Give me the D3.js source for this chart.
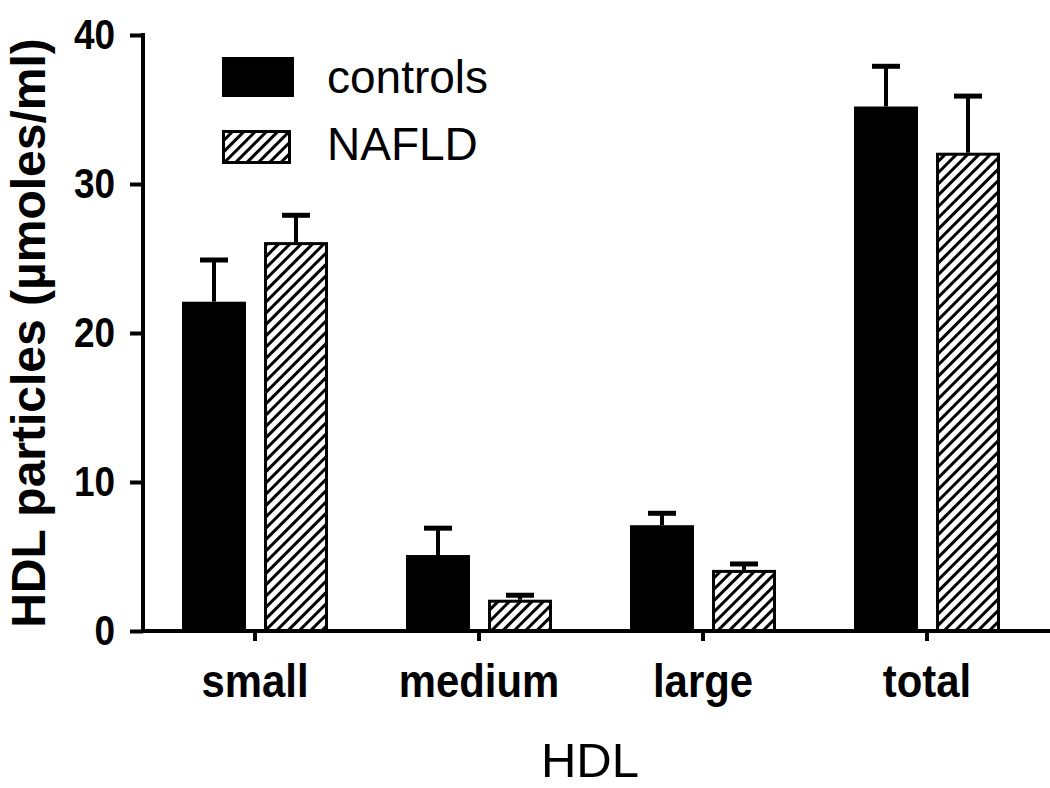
<!DOCTYPE html>
<html><head><meta charset="utf-8">
<script src="https://cdn.jsdelivr.net/npm/d3@7"></script>
<style>body{margin:0;background:#fff}svg{display:block}text{font-family:"Liberation Sans",Arial,sans-serif}</style>
</head><body><svg id="c" width="1050" height="788"></svg>
<script>
const categories = ["small","medium","large","total"];
const series = ["controls","NAFLD"];
const controlsMean = [22.1, 5.1, 7.1, 35.2];
const controlsErr = [2.8, 1.8, 0.8, 2.7];
const nafldMean = [26.1, 2.1, 4.1, 32.1];
const nafldErr = [1.8, 0.3, 0.4, 3.8];
const yTicks = [0,10,20,30,40];

const svg = d3.select("#c");
const defs = svg.append("defs");
const pat = defs.append("pattern").attr("id","hatch").attr("patternUnits","userSpaceOnUse")
  .attr("width",8).attr("height",8).attr("patternTransform","rotate(45)");
pat.append("rect").attr("width",8).attr("height",8).attr("fill","#fff");
pat.append("rect").attr("x",0).attr("y",0).attr("width",3).attr("height",8).attr("fill","#000");

const y = d3.scaleLinear().domain([0,40]).range([631,35]);
const x0 = d3.scaleBand().domain(categories).range([143,1039]).padding(0);
const x1 = d3.scaleBand().domain(series).range([-73,73]).paddingInner(0.22);

const data = [];
categories.forEach((c,i)=>{
  data.push({c, s:"controls", v:controlsMean[i], e:controlsErr[i]});
  data.push({c, s:"NAFLD", v:nafldMean[i], e:nafldErr[i]});
});
const cx = d => x0(d.c)+x0.bandwidth()/2 + x1(d.s);

function squeeze(sel, f){
  sel.each(function(){
    const L = this.getComputedTextLength();
    d3.select(this).attr("textLength", L*f).attr("lengthAdjust","spacingAndGlyphs");
  });
}

// error bars (upper only)
const eg = svg.append("g");
data.forEach(d=>{
  const mx = cx(d)+x1.bandwidth()/2;
  eg.append("line").attr("x1",mx).attr("x2",mx).attr("y1",y(d.v)).attr("y2",y(d.v+d.e))
    .attr("stroke","#000").attr("stroke-width",4);
  eg.append("line").attr("x1",mx-14).attr("x2",mx+14).attr("y1",y(d.v+d.e)).attr("y2",y(d.v+d.e))
    .attr("stroke","#000").attr("stroke-width",5);
});

// bars
svg.append("g").selectAll("rect").data(data).join("rect")
  .attr("x", d=> d.s==="NAFLD" ? cx(d)+1.5 : cx(d))
  .attr("y", d=> d.s==="NAFLD" ? y(d.v)+1.5 : y(d.v))
  .attr("width", d=> d.s==="NAFLD" ? x1.bandwidth()-3 : x1.bandwidth())
  .attr("height", d=> d.s==="NAFLD" ? y(0)-y(d.v)-1.5 : y(0)-y(d.v))
  .attr("fill", d=> d.s==="NAFLD" ? "url(#hatch)" : "#000")
  .attr("stroke", d=> d.s==="NAFLD" ? "#000" : "none")
  .attr("stroke-width",3);

// y axis
const ya = svg.append("g").attr("transform","translate(143,0)")
  .call(d3.axisLeft(y).tickValues(yTicks).tickSize(13).tickPadding(15));
ya.select(".domain").attr("stroke-width",4).attr("d","M0,"+(y(40)-2)+"V"+(y(0)+2));
ya.selectAll(".tick line").attr("stroke-width",4);
ya.selectAll(".tick text").attr("font-size",42).attr("font-weight","bold").attr("fill","#000")
  .attr("font-family","Liberation Sans, Arial, sans-serif").call(squeeze, 0.88);

// x axis
const xa = svg.append("g").attr("transform","translate(0,631)")
  .call(d3.axisBottom(x0).tickSize(10).tickPadding(23));
xa.select(".domain").attr("stroke-width",4).attr("d","M143,0H1050");
xa.selectAll(".tick line").attr("stroke-width",4);
xa.selectAll(".tick text").attr("font-size",46).attr("font-weight","bold").attr("fill","#000")
  .attr("font-family","Liberation Sans, Arial, sans-serif").call(squeeze, 0.91);

// titles
svg.append("text").attr("x",590).attr("y",777).attr("text-anchor","middle")
  .attr("font-size",49).text("HDL");
svg.append("text").attr("transform","translate(45,333) rotate(-90)").attr("text-anchor","middle")
  .attr("font-size",48).attr("font-weight","bold").text("HDL particles (µmoles/ml)");

// legend
const lg = svg.append("g");
lg.append("rect").attr("x",222).attr("y",57).attr("width",72).attr("height",40).attr("fill","#000");
lg.append("rect").attr("x",223.5).attr("y",131.5).attr("width",66).attr("height",31)
  .attr("fill","url(#hatch)").attr("stroke","#000").attr("stroke-width",3);
lg.append("text").attr("x",327).attr("y",93).attr("font-size",46).text(series[0]);
lg.append("text").attr("x",327).attr("y",160).attr("font-size",46).text(series[1]);
</script></body></html>
